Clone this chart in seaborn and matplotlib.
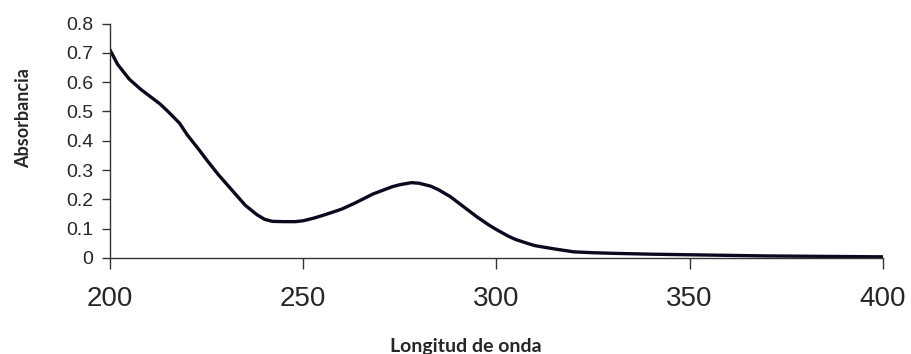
import matplotlib
matplotlib.use("Agg")
import matplotlib.pyplot as plt
import seaborn as sns
import pandas as pd

wavelength = [200, 202, 205, 208, 210, 213, 215, 218, 220, 223, 225, 228, 230, 233, 235, 238,
              240, 242, 245, 248, 250, 253, 255, 258, 260, 263, 265, 268, 270, 273, 275, 278,
              280, 283, 285, 288, 290, 293, 295, 298, 300, 303, 305, 308, 310, 315, 320, 325,
              330, 340, 350, 360, 370, 380, 390, 400]
absorbance = [0.71, 0.66, 0.61, 0.575, 0.555, 0.525, 0.50, 0.46, 0.42, 0.37, 0.335, 0.285, 0.255, 0.21, 0.18, 0.148,
              0.132, 0.125, 0.124, 0.124, 0.127, 0.137, 0.145, 0.158, 0.167, 0.185, 0.198, 0.218, 0.228, 0.243, 0.25, 0.257,
              0.255, 0.245, 0.233, 0.21, 0.19, 0.16, 0.14, 0.113, 0.097, 0.075, 0.063, 0.05, 0.042, 0.031, 0.021, 0.018,
              0.016, 0.013, 0.011, 0.009, 0.007, 0.006, 0.005, 0.004]

xticks = [200, 250, 300, 350, 400]
yticks = [0, 0.1, 0.2, 0.3, 0.4, 0.5, 0.6, 0.7, 0.8]
ytick_labels = ["0", "0.1", "0.2", "0.3", "0.4", "0.5", "0.6", "0.7", "0.8"]

df = pd.DataFrame({"Longitud de onda": wavelength, "Absorbancia": absorbance})

sns.set_style("white")
plt.rcParams["font.family"] = ["Liberation Sans", "DejaVu Sans"]

fig = plt.figure(figsize=(9.12, 3.54), dpi=100)
ax = fig.add_axes([0.1206, 0.2712, 0.968 - 0.1206, 0.9336 - 0.2712])
sns.lineplot(data=df, x="Longitud de onda", y="Absorbancia", ax=ax,
             color="#0a0a1e", linewidth=2.4)

ax.set_xlim(200, 400)
ax.set_ylim(0, 0.8)
ax.set_xticks(xticks)
ax.set_xticklabels([str(t) for t in xticks], fontsize=20)
ax.set_yticks(yticks)
ax.set_yticklabels(ytick_labels, fontsize=14)

for s in ["top", "right"]:
    ax.spines[s].set_visible(False)
for s in ["left", "bottom"]:
    ax.spines[s].set_color("#333333")
    ax.spines[s].set_linewidth(1.0)

ax.tick_params(axis="x", direction="out", length=8, width=1, color="#333333", pad=12, bottom=True)
ax.tick_params(axis="y", direction="out", length=6, width=1, color="#333333", pad=6, left=True)

ax.set_xlabel("Longitud de onda", fontsize=14, fontweight="bold", family=["Lato", "DejaVu Sans"])
ax.set_ylabel("Absorbancia", fontsize=13, fontweight="bold", family=["Lato", "DejaVu Sans"])
ax.xaxis.set_label_coords(0.4605, -0.34)
ax.yaxis.set_label_coords(-0.101, 0.597)

fig.savefig("out.png", dpi=100, facecolor="white")
